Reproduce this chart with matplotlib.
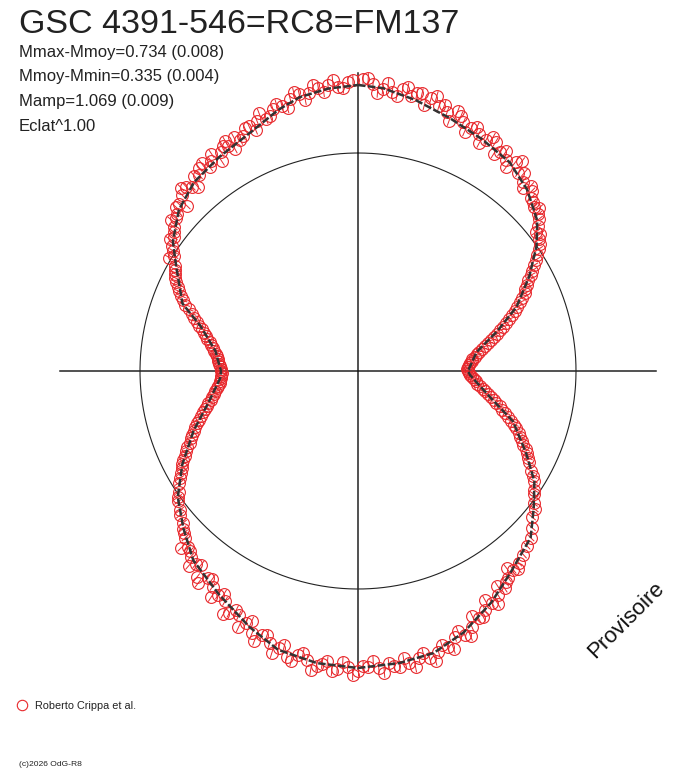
import numpy as np
import matplotlib
matplotlib.use("Agg")
import matplotlib.pyplot as plt

plt.rcParams['font.family'] = ['Liberation Sans', 'DejaVu Sans']

title = "GSC 4391-546=RC8=FM137"
info_lines = ["Mmax-Mmoy=0.734 (0.008)",
              "Mmoy-Mmin=0.335 (0.004)",
              "Mamp=1.069 (0.009)",
              "Eclat^1.00"]
observer = "Roberto Crippa et al."
credit = "(c)2026 OdG-R8"
stamp = "Provisoire"

# fitted light curve, phase in degrees (clockwise from top), radius in plot units
fit_phase = [0, 5, 12, 20, 28, 36, 43, 50, 55, 61, 68, 74, 81, 90, 92, 101, 108, 116,
             122, 128, 134, 143, 150, 158, 165, 172, 180, 188, 196, 203, 212, 221, 228,
             235, 242, 250, 258, 267, 270, 278, 286, 291, 300, 305, 312, 319, 327, 336,
             343, 348, 354, 360]
fit_r = [286, 284, 277, 269, 263, 258, 248, 234, 218, 196, 171, 145, 120, 110, 112, 134,
         163, 187, 208, 223, 240, 253, 267, 282, 292, 295, 297, 295, 290, 278, 263, 251,
         235, 220, 199, 175, 153, 138, 137, 144, 164, 188, 210, 226, 241, 250, 255, 262,
         273, 280, 284, 286]

# observations
obs_phase = [1, 3, 5, 7, 9, 11, 13, 15, 17, 19, 21, 23, 25, 27, 29, 31, 33, 35, 37, 39,
             41, 43, 45, 47, 48, 50, 51, 53, 54, 56, 57, 58, 59, 60, 61, 62, 63, 64, 65,
             66, 67, 68, 69, 70, 71, 72, 73, 74, 75, 76, 77, 78, 79, 80, 81, 82, 83, 84,
             85, 86, 87, 88, 89, 90, 91, 92, 93, 94, 95, 96, 97, 98, 99, 100, 101, 102,
             103, 104, 105, 106, 107, 108, 109, 110, 111, 112, 113, 114, 115, 116, 117,
             118, 120, 121, 122, 124, 125, 127, 128, 130, 132, 134, 136, 138, 140, 142,
             144, 146, 148, 150, 152, 154, 156, 158, 160, 162, 164, 166, 168, 170, 172,
             174, 176, 178, 180, 182, 184, 186, 188, 190, 192, 194, 196, 198, 200, 202,
             204, 206, 208, 210, 212, 214, 216, 218, 220, 222, 224, 226, 228, 229, 231,
             232, 234, 235, 236, 238, 239, 240, 241, 242, 243, 244, 245, 246, 247, 248,
             249, 250, 251, 252, 253, 254, 255, 256, 257, 258, 259, 260, 261, 262, 263,
             264, 265, 266, 267, 268, 269, 270, 271, 272, 273, 274, 275, 276, 277, 278,
             279, 280, 281, 282, 283, 284, 285, 286, 287, 288, 289, 290, 291, 292, 293,
             294, 295, 296, 297, 298, 299, 300, 302, 303, 304, 306, 307, 308, 310, 311,
             313, 315, 317, 318, 320, 322, 324, 326, 328, 330, 332, 334, 336, 338, 340,
             342, 344, 346, 348, 350, 352, 354, 356, 358,
             2, 4, 6, 8, 10, 12, 14, 16, 18, 20, 22, 24, 26, 28, 30, 32, 34, 36, 38, 40,
             42, 44, 46, 49, 52, 55,
             330, 331, 333, 335, 337, 339, 341, 343, 345, 347, 349, 351, 353, 355, 357,
             359, 312, 314, 316, 319, 321, 323, 325, 327, 329, 309, 305, 301,
             141, 143, 145, 147, 149, 151, 153, 155, 157, 159, 161, 163, 165, 167, 169,
             171, 173, 175, 177, 179, 181, 183, 185, 187, 189, 191, 193, 195, 197, 199,
             201, 203, 205, 207, 209, 211, 213, 215, 217, 219, 221, 223, 225, 227]
obs_r = [292, 287, 283, 281, 286, 280, 285, 283, 277, 274, 279, 270, 268, 266, 264, 267,
         261, 258, 262, 255, 251, 253, 245, 240, 244, 236, 231, 228, 224, 218, 213, 210,
         205, 201, 198, 193, 190, 186, 184, 180, 176, 172, 168, 164, 160, 156, 152, 148,
         144, 140, 137, 133, 129, 126, 123, 120, 118, 115, 114, 112, 111, 110, 109, 110,
         111, 112, 114, 116, 118, 120, 123, 126, 129, 132, 135, 139, 142, 146, 149, 153,
         157, 161, 165, 168, 172, 175, 178, 181, 185, 188, 191, 194, 200, 204, 207, 212,
         215, 220, 224, 227, 234, 240, 243, 247, 250, 252, 256, 262, 264, 268, 271, 275,
         280, 285, 283, 290, 292, 296, 293, 296, 299, 294, 298, 296, 300, 296, 299, 292,
         298, 293, 290, 295, 288, 286, 281, 283, 276, 272, 274, 266, 264, 260, 256, 262,
         252, 250, 245, 240, 236, 232, 229, 226, 222, 220, 216, 211, 208, 204, 201, 199,
         196, 193, 190, 187, 183, 180, 178, 175, 172, 169, 166, 163, 160, 158, 155, 153,
         150, 148, 146, 144, 142, 141, 139, 138, 137, 137, 136, 137, 137, 138, 139, 140,
         141, 142, 143, 145, 147, 149, 151, 154, 156, 159, 162, 165, 168, 172, 176, 180,
         185, 189, 192, 196, 199, 202, 205, 207, 209, 211, 217, 220, 224, 228, 231, 234,
         238, 240, 245, 249, 252, 248, 255, 258, 252, 262, 258, 260, 265, 262, 268, 270,
         268, 275, 276, 280, 283, 282, 286, 288, 285, 289,
         293, 279, 290, 278, 288, 284, 274, 286, 280, 266, 275, 262, 272, 258, 270, 256,
         265, 252, 266, 259, 246, 250, 243, 239, 226, 222,
         266, 254, 259, 268, 262, 276, 270, 279, 272, 286, 276, 290, 281, 292, 283,
         291, 245, 238, 255, 244, 252, 260, 256, 250, 263, 240, 230, 220,
         255, 247, 258, 256, 272, 262, 276, 270, 288, 278, 294, 286, 300, 289, 302,
         291, 297, 303, 290, 295, 304, 291, 301, 295, 303, 287, 298, 284, 295, 279,
         289, 272, 283, 268, 278, 260, 270, 254, 266, 249, 258, 246, 250, 238]

mean_r = 218
axis_len = 298

red = '#e8282c'

fig = plt.figure(figsize=(6.88, 7.68), dpi=100)
ax = fig.add_axes([38 / 688, 77 / 768, 640 / 688, 640 / 768], projection='polar')
ax.set_theta_zero_location('N')
ax.set_theta_direction(-1)
ax.set_ylim(0, 320)
ax.axis('off')

# cross and mean circle
for ang in [0, 90, 180, 270]:
    ax.plot([np.radians(ang)] * 2, [0, axis_len], color='#222222', lw=1.1, clip_on=False)
circ = np.linspace(0, 2 * np.pi, 400)
ax.plot(circ, np.full_like(circ, mean_r), color='#222222', lw=0.8)

ax.errorbar(np.radians(obs_phase), obs_r, yerr=5, fmt='o', ms=8.5, mfc='none',
            mec=red, mew=0.8, ecolor=red, elinewidth=0.7, capsize=0, zorder=3)
ax.plot(np.radians(fit_phase), fit_r, color='#333333', lw=1.8,
        linestyle=(0, (3, 1)), zorder=4)

# texts
fig.text(19 / 688, 1 - 33 / 768, title, fontsize=24.5, color='#222222', va='baseline')
for i, line in enumerate(info_lines):
    fig.text(19 / 688, 1 - (56.7 + 24.7 * i) / 768, line, fontsize=12,
             color='#222222', va='baseline')

fig.text(626 / 688, 1 - 620 / 768, stamp, fontsize=16, rotation=45,
         ha='center', va='center', color='#111111')

fig.add_artist(plt.Line2D([22 / 688], [1 - 705 / 768], marker='o', ms=7.5, mfc='none',
                          mec=red, mew=0.8, transform=fig.transFigure))
fig.text(35 / 688, 1 - 709 / 768, observer, fontsize=7.8, color='#222222', va='baseline')
fig.text(19 / 688, 1 - 766 / 768, credit, fontsize=6.1, color='#222222', va='baseline')

fig.savefig('out.png', dpi=100)
